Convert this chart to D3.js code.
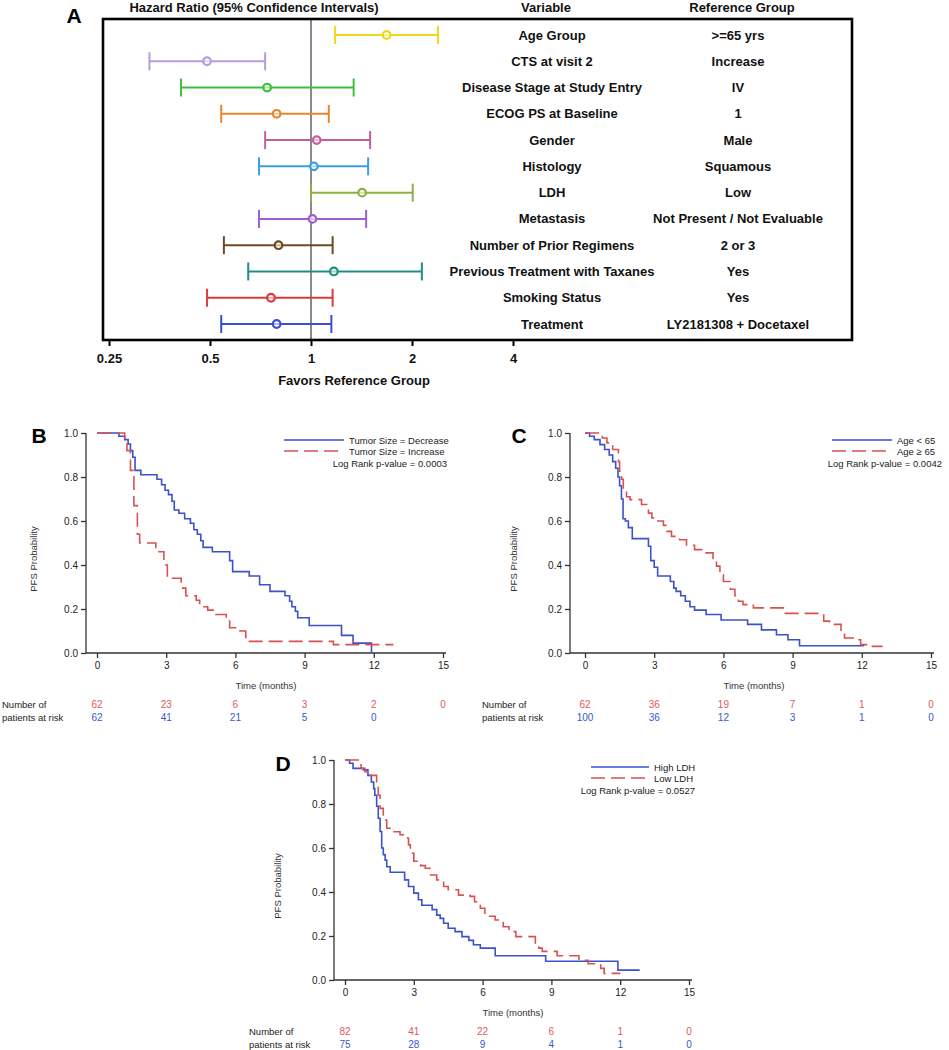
<!DOCTYPE html>
<html><head><meta charset="utf-8">
<script src="https://cdn.jsdelivr.net/npm/d3@7"></script>
<style>body{margin:0;background:#fff;} svg{display:block;font-family:"Liberation Sans",Arial,sans-serif;}</style>
</head><body><svg id="c" width="949" height="1050"></svg>
<script>
// ---------- Panel A data ----------
const haVars = ["Age Group","CTS at visit 2","Disease Stage at Study Entry","ECOG PS at Baseline","Gender","Histology","LDH","Metastasis","Number of Prior Regimens","Previous Treatment with Taxanes","Smoking Status","Treatment"];
const haRefs = [">=65 yrs","Increase","IV","1","Male","Squamous","Low","Not Present / Not Evaluable","2 or 3","Yes","Yes","LY2181308 + Docetaxel"];
const haEst  = [1.68,0.49,0.74,0.79,1.04,1.02,1.42,1.01,0.80,1.17,0.76,0.79];
const haLow  = [1.18,0.33,0.41,0.54,0.73,0.70,1.00,0.70,0.55,0.65,0.49,0.54];
const haHigh = [2.39,0.73,1.34,1.13,1.50,1.48,2.01,1.46,1.16,2.14,1.16,1.15];
const haColors = ["#f0d818","#b59be0","#3cc03c","#e8862c","#c2609e","#3a9fe0","#8fb040","#9b5fcf","#6e4a22","#1e8f82","#d83c3c","#3a4fc8"];
const haTicks = [0.25,0.5,1,2,4];

// ---------- KM data ([months, survival]) ----------
const kmXTicks = [0,3,6,9,12,15];
const kmYTicks = [0,0.2,0.4,0.6,0.8,1.0];

const bDecrease = [[0,1],[0.95,0.985],[1.2,0.97],[1.35,0.95],[1.45,0.92],[1.55,0.89],[1.65,0.83],[1.9,0.81],[2.6,0.79],[2.8,0.765],[2.95,0.74],[3.1,0.72],[3.25,0.69],[3.35,0.65],[3.55,0.635],[3.8,0.61],[4.05,0.59],[4.2,0.56],[4.35,0.54],[4.5,0.51],[4.6,0.48],[5.0,0.46],[5.75,0.42],[5.88,0.37],[6.6,0.35],[7.05,0.31],[7.5,0.28],[8.15,0.26],[8.35,0.235],[8.45,0.21],[8.6,0.19],[8.7,0.16],[9.2,0.125],[10.6,0.08],[11.1,0.045],[11.9,0],[11.9,0]];
const bIncrease = [[0,1],[1.2,0.97],[1.3,0.92],[1.45,0.83],[1.6,0.67],[1.75,0.54],[1.85,0.5],[2.55,0.46],[2.9,0.40],[3.05,0.34],[3.65,0.295],[3.85,0.26],[4.3,0.24],[4.45,0.21],[4.8,0.195],[5.15,0.175],[5.6,0.15],[5.75,0.115],[6.2,0.10],[6.45,0.053],[10.25,0.038],[12.85,0.038]];
const bRiskRed  = [62,23,6,3,2,0];
const bRiskBlue = [62,41,21,5,0];

const cYoung = [[0,1],[0.2,0.985],[0.4,0.97],[0.65,0.947],[0.85,0.925],[1.05,0.9],[1.2,0.87],[1.33,0.84],[1.43,0.80],[1.5,0.76],[1.58,0.70],[1.65,0.61],[1.75,0.60],[1.88,0.57],[2.05,0.52],[2.75,0.485],[2.85,0.42],[3.0,0.39],[3.15,0.35],[3.7,0.325],[3.85,0.295],[3.95,0.28],[4.15,0.26],[4.35,0.235],[4.55,0.21],[4.75,0.195],[5.25,0.175],[5.9,0.15],[7.05,0.13],[7.65,0.105],[8.3,0.083],[8.8,0.06],[9.3,0.033],[12.1,0.033]];
const cOld = [[0,1],[0.75,0.977],[0.95,0.955],[1.2,0.925],[1.45,0.87],[1.5,0.826],[1.59,0.79],[1.66,0.75],[1.8,0.71],[1.95,0.697],[2.45,0.675],[2.75,0.636],[2.9,0.614],[3.1,0.6],[3.4,0.58],[3.55,0.553],[3.75,0.53],[4.1,0.515],[4.4,0.49],[4.75,0.47],[5.25,0.455],[5.55,0.43],[5.7,0.395],[5.85,0.355],[6.0,0.325],[6.3,0.29],[6.5,0.26],[6.65,0.235],[6.85,0.22],[7.3,0.205],[8.6,0.18],[10.35,0.145],[10.6,0.13],[11.1,0.1],[11.25,0.068],[11.75,0.06],[11.95,0.038],[12.2,0.03],[12.9,0.03]];
const cRiskRed  = [62,36,19,7,1,0];
const cRiskBlue = [100,36,12,3,1,0];

const dHigh = [[0,1],[0.2,0.985],[0.35,0.962],[0.8,0.955],[1.0,0.93],[1.15,0.9],[1.25,0.87],[1.3,0.84],[1.38,0.79],[1.45,0.735],[1.53,0.675],[1.6,0.6],[1.67,0.57],[1.75,0.545],[1.82,0.515],[1.97,0.49],[2.6,0.455],[2.77,0.425],[3.0,0.395],[3.2,0.365],[3.35,0.34],[3.8,0.32],[4.0,0.295],[4.15,0.28],[4.3,0.258],[4.5,0.235],[4.8,0.22],[5.1,0.197],[5.4,0.18],[5.6,0.16],[5.9,0.145],[6.55,0.11],[8.75,0.085],[11.9,0.045],[12.85,0.045]];
const dLow = [[0,1],[0.7,0.962],[0.87,0.947],[1.1,0.93],[1.38,0.9],[1.45,0.84],[1.53,0.78],[1.67,0.727],[1.82,0.69],[2.0,0.674],[2.4,0.66],[2.65,0.645],[2.77,0.614],[2.85,0.576],[3.0,0.54],[3.3,0.52],[3.5,0.508],[3.7,0.477],[4.0,0.455],[4.3,0.425],[4.5,0.41],[4.95,0.386],[5.45,0.38],[5.65,0.356],[5.9,0.326],[6.1,0.29],[6.55,0.273],[6.9,0.242],[7.15,0.22],[7.45,0.197],[8.3,0.167],[8.45,0.145],[8.6,0.13],[9.25,0.11],[10.2,0.09],[10.6,0.074],[11.15,0.053],[11.3,0.03],[12.0,0.03]];
const dRiskRed  = [82,41,22,6,1,0];
const dRiskBlue = [75,28,9,4,1,0];

const svg = d3.select("#c");
svg.append("rect").attr("width",949).attr("height",1050).attr("fill","#fff");

// ---------- Panel A ----------
(function(){
  const g = svg.append("g");
  const x = d3.scaleLog().base(2).domain([0.25,4]).range([109,513]);
  const y = d3.scalePoint().domain(haVars).range([35,324]);
  const bold = "bold", fsA = 13;
  g.append("text").attr("x",74).attr("y",23).attr("text-anchor","middle").attr("font-size",21).attr("font-weight",bold).text("A");
  const hdr = [["Hazard Ratio (95% Confidence Intervals)",254],["Variable",546],["Reference Group",742]];
  hdr.forEach(h=>g.append("text").attr("x",h[1]).attr("y",12).attr("text-anchor","middle").attr("font-size",fsA).attr("font-weight",bold).attr("fill","#111").text(h[0]));
  g.append("line").attr("x1",x(1)).attr("x2",x(1)).attr("y1",19).attr("y2",340).attr("stroke","#8a8a8a").attr("stroke-width",2);
  haVars.forEach((v,i)=>{
    const c = haColors[i], yy = y(v);
    g.append("line").attr("x1",x(haLow[i])).attr("x2",x(haHigh[i])).attr("y1",yy).attr("y2",yy).attr("stroke",c).attr("stroke-width",2);
    [haLow[i],haHigh[i]].forEach(e=>g.append("line").attr("x1",x(e)).attr("x2",x(e)).attr("y1",yy-9).attr("y2",yy+9).attr("stroke",c).attr("stroke-width",2));
    g.append("circle").attr("cx",x(haEst[i])).attr("cy",yy).attr("r",3.8).attr("fill","#fff").attr("fill-opacity",0.6).attr("stroke",c).attr("stroke-width",2.2);
    g.append("text").attr("x",552).attr("y",yy+4.5).attr("text-anchor","middle").attr("font-size",fsA).attr("font-weight",bold).attr("fill","#111").text(v);
    g.append("text").attr("x",738).attr("y",yy+4.5).attr("text-anchor","middle").attr("font-size",fsA).attr("font-weight",bold).attr("fill","#111").text(haRefs[i]);
  });
  g.append("rect").attr("x",103).attr("y",19).attr("width",749).attr("height",321).attr("fill","none").attr("stroke","#000").attr("stroke-width",2.6);
  const ax = d3.axisBottom(x).tickValues(haTicks).tickFormat(d=>String(d)).tickSize(6).tickPadding(8).tickSizeOuter(0);
  const ag = g.append("g").attr("transform","translate(0,340)").call(ax);
  ag.select(".domain").remove();
  ag.selectAll(".tick line").attr("stroke","#000").attr("stroke-width",2);
  ag.selectAll(".tick text").attr("font-size",fsA).attr("font-weight",bold).attr("fill","#111").attr("font-family","Liberation Sans, Arial, sans-serif");
  g.append("text").attr("x",354).attr("y",385).attr("text-anchor","middle").attr("font-size",fsA).attr("font-weight",bold).attr("fill","#111").text("Favors Reference Group");
})();

// ---------- KM panels ----------
const KM_BLUE = "#3d52c8", KM_RED = "#d85252";
function km(o){
  const g = svg.append("g");
  const x = d3.scaleLinear().domain([0,15]).range([o.x0,o.x15]);
  const y = d3.scaleLinear().domain([0,1]).range([o.yb,o.yt]);
  const fs = 9.5;
  g.append("text").attr("x",o.lx).attr("y",o.ly).attr("text-anchor","middle").attr("font-size",21).attr("font-weight","bold").text(o.letter);
  g.append("line").attr("x1",o.ax).attr("x2",o.ax).attr("y1",o.yt).attr("y2",o.yb).attr("stroke","#333").attr("stroke-width",1.3);
  g.append("line").attr("x1",o.ax).attr("x2",x(15)+3).attr("y1",o.yb).attr("y2",o.yb).attr("stroke","#333").attr("stroke-width",1.3);
  const ya = d3.axisLeft(y).tickValues(kmYTicks).tickFormat(d3.format(".1f")).tickSize(5).tickPadding(3).tickSizeOuter(0);
  const yg = g.append("g").attr("transform",`translate(${o.ax},0)`).call(ya);
  yg.select(".domain").remove();
  const xa = d3.axisBottom(x).tickValues(kmXTicks).tickSize(5).tickPadding(4).tickSizeOuter(0);
  const xg = g.append("g").attr("transform",`translate(0,${o.yb})`).call(xa);
  xg.select(".domain").remove();
  [yg,xg].forEach(a=>{
    a.selectAll(".tick line").attr("stroke","#333").attr("stroke-width",1.3);
    a.selectAll(".tick text").attr("font-size",fs+0.5).attr("fill","#222").attr("font-family","Liberation Sans, Arial, sans-serif");
  });
  g.append("text").attr("transform",`translate(${o.ytx},${(o.yt+o.yb)/2+16}) rotate(-90)`).attr("text-anchor","middle").attr("font-size",fs).attr("fill","#333").text("PFS Probability");
  g.append("text").attr("x",(x(0)+x(15))/2-4).attr("y",o.yb+36).attr("text-anchor","middle").attr("font-size",fs).attr("fill","#333").text("Time (months)");
  const line = d3.line().x(d=>x(d[0])).y(d=>y(d[1])).curve(d3.curveStepAfter);
  g.append("path").datum(o.blue).attr("d",line).attr("fill","none").attr("stroke",KM_BLUE).attr("stroke-width",1.6);
  g.append("path").datum(o.red).attr("d",line).attr("fill","none").attr("stroke",KM_RED).attr("stroke-width",1.6).attr("stroke-dasharray","14,6");
  const L = o.leg;
  g.append("line").attr("x1",L.x1).attr("x2",L.x2).attr("y1",L.y).attr("y2",L.y).attr("stroke",KM_BLUE).attr("stroke-width",1.6);
  g.append("line").attr("x1",L.x1).attr("x2",L.x2).attr("y1",L.y+11).attr("y2",L.y+11).attr("stroke",KM_RED).attr("stroke-width",1.6).attr("stroke-dasharray","14,6");
  g.append("text").attr("x",L.x2+5).attr("y",L.y+3.5).attr("font-size",fs).attr("fill","#222").text(L.blue);
  g.append("text").attr("x",L.x2+5).attr("y",L.y+14.5).attr("font-size",fs).attr("fill","#222").text(L.red);
  g.append("text").attr("x",L.pr).attr("y",L.y+27).attr("text-anchor","end").attr("font-size",fs).attr("fill","#222").text(L.p);
  const r1 = o.yb+55, r2 = o.yb+68;
  g.append("text").attr("x",o.nx).attr("y",r1).attr("font-size",fs).attr("fill","#222").text("Number of");
  g.append("text").attr("x",o.nx).attr("y",r2).attr("font-size",fs).attr("fill","#222").text("patients at risk");
  o.riskRed.forEach((v,i)=>g.append("text").attr("x",x(kmXTicks[i])).attr("y",r1).attr("text-anchor","middle").attr("font-size",fs+0.5).attr("fill","#e05a5a").text(v));
  o.riskBlue.forEach((v,i)=>g.append("text").attr("x",x(kmXTicks[i])).attr("y",r2).attr("text-anchor","middle").attr("font-size",fs+0.5).attr("fill","#3a58d0").text(v));
}

km({letter:"B",lx:39,ly:443,x0:97,x15:443,yb:653,yt:433,ax:86,ytx:37,nx:2,
  blue:bDecrease,red:bIncrease,riskRed:bRiskRed,riskBlue:bRiskBlue,
  leg:{x1:284,x2:344,y:440,blue:"Tumor Size = Decrease",red:"Tumor Size = Increase",p:"Log Rank p-value = 0.0003",pr:447}});
km({letter:"C",lx:519,ly:443,x0:585,x15:931,yb:653,yt:433,ax:570,ytx:517,nx:482,
  blue:cYoung,red:cOld,riskRed:cRiskRed,riskBlue:cRiskBlue,
  leg:{x1:832,x2:892,y:440,blue:"Age < 65",red:"Age \u2265 65",p:"Log Rank p-value = 0.0042",pr:942}});
km({letter:"D",lx:283,ly:771,x0:345,x15:689,yb:980,yt:760,ax:334,ytx:281,nx:249,
  blue:dHigh,red:dLow,riskRed:dRiskRed,riskBlue:dRiskBlue,
  leg:{x1:591,x2:649,y:767,blue:"High LDH",red:"Low LDH",p:"Log Rank p-value = 0.0527",pr:695}});
</script></body></html>
